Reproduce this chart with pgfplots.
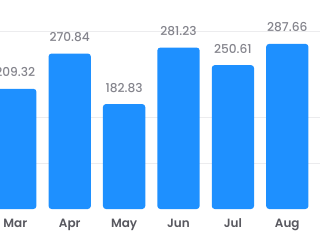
\documentclass[border=0pt]{standalone}
\usepackage{pgfplots}
\pgfplotsset{compat=1.18}
\usepackage{fontspec}
\setmainfont{Poppins}
\newfontfamily\popmed{Poppins Medium}
\newfontfamily\popsb{Poppins SemiBold}
\definecolor{barblue}{RGB}{30,144,255}
\definecolor{valgray}{RGB}{132,132,140}
\definecolor{tickgray}{RGB}{88,88,95}
\definecolor{gridgray}{RGB}{236,236,238}
\begin{document}
\begin{tikzpicture}
\begin{axis}[
 at={(0,0)}, anchor=south west,
 width=320pt, height=240pt, scale only axis,
 xmin=-0.2813, xmax=5.6011, ymin=-54, ymax=364.1,
 axis line style={draw=none},
 major tick length=0pt,
 xtick={0,...,5}, xticklabels={Mar,Apr,May,Jun,Jul,Aug},
 xticklabel style={font=\popsb\fontsize{12}{14}\selectfont, text=tickgray, anchor=base, yshift=13pt, inner sep=0pt},
 ytick={80,160,308.9}, yticklabels={},
 ymajorgrids, grid style={gridgray, line width=0.8pt},
]
\addplot[ybar, bar width=42.3pt, fill=barblue, draw=none, rounded corners=3pt,
 nodes near coords={\pgfmathprintnumber[fixed,fixed zerofill,precision=2,1000 sep={},assume math mode=true]{\pgfplotspointmeta}},
 nodes near coords style={font=\popmed\fontsize{12.2}{14}\selectfont, text=valgray, anchor=base, yshift=12pt, inner sep=0pt}]
 coordinates {(0,209.32) (1,270.84) (2,182.83) (3,281.23) (4,250.61) (5,287.66)};
\end{axis}
\pgfresetboundingbox
\path[use as bounding box] (0,0) rectangle (320pt,240pt);
\end{tikzpicture}
\end{document}
